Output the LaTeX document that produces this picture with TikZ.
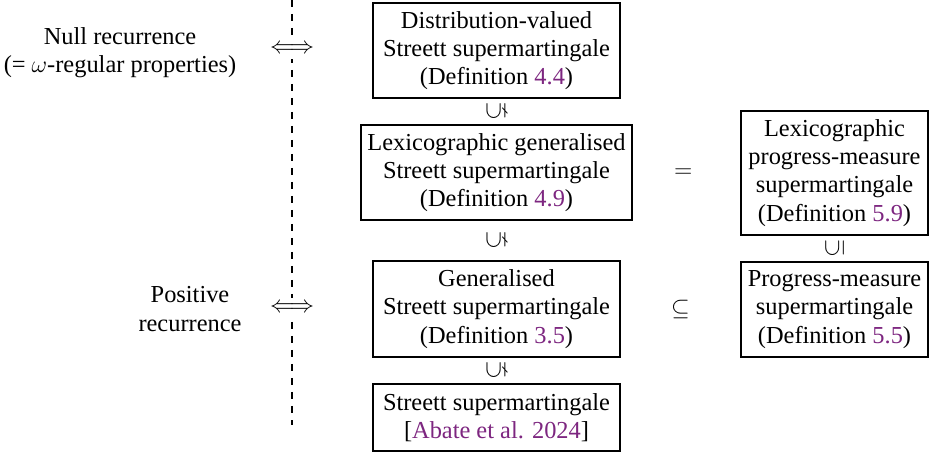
\documentclass[tikz,border=0pt]{standalone}
\usepackage{amssymb}
\usepackage{fontspec}
\setmainfont{Liberation Serif}
\usetikzlibrary{calc, positioning}

\definecolor{refpurple}{RGB}{125,38,128}
\newcommand{\refnum}[1]{\textcolor{refpurple}{#1}}

\begin{document}
\begin{tikzpicture}[
    x=0.5pt, y=-0.5pt,
    thick,
    font=\fontsize{12.2}{14.1}\selectfont,
    box/.style={draw, line width=1pt, align=center, inner sep=2pt},
    rel/.style={inner sep=0pt},
    iff/.style={fill=white, inner sep=3pt}
]
\useasboundingbox (0,0) rectangle (930,453);

% the dividing line
\coordinate (top) at (292,0);
\coordinate (bot) at (292,425);
\draw[dashed, line width=0.7pt, dash pattern=on 3.5pt off 3.5pt] (top) -- (bot);

% left hand side
\node[align=center] (null) at (120,53) {Null recurrence\\(= $\omega$-regular properties)};
\node[align=center] (pos) at (190,309) {Positive\\recurrence};

\node[iff] (iff1) at (292,49) {$\Longleftrightarrow$};
\node[iff] (iff2) at (292,308) {$\Longleftrightarrow$};

% the chain of supermartingales
\node[box, minimum width=123.5pt, minimum height=47.5pt] (dist) at (496.5,50.5)
    {Distribution-valued\\Streett supermartingale\\(Definition \refnum{4.4})};
\node[box, minimum width=135.5pt, minimum height=47.5pt] (lexgen) at (496.5,172.5)
    {Lexicographic generalised\\Streett supermartingale\\(Definition \refnum{4.9})};
\node[box, minimum width=123.5pt, minimum height=48pt] (gen) at (496.5,309)
    {Generalised\\Streett supermartingale\\(Definition \refnum{3.5})};
\node[box, minimum width=123.5pt, minimum height=33.5pt] (streett) at (496.5,417.5)
    {Streett supermartingale\\{}[\refnum{Abate et al. 2024}]};

% progress measures
\node[box, minimum width=93.5pt, minimum height=62pt] (lexpm) at (834.5,173)
    {Lexicographic\\progress-measure\\supermartingale\\(Definition \refnum{5.9})};
\node[box, minimum width=93.5pt, minimum height=47.5pt] (pm) at (834.5,309.5)
    {Progress-measure\\supermartingale\\(Definition \refnum{5.5})};

% relations
\node[rel] (r1) at ($(dist.south)!0.5!(lexgen.north)$) {\rotatebox{90}{$\subsetneq$}};
\node[rel] (r2) at ($(lexgen.south)!0.5!(gen.north)$) {\rotatebox{90}{$\subsetneq$}};
\node[rel] (r3) at ($(gen.south)!0.5!(streett.north)$) {\rotatebox{90}{$\subsetneq$}};
\node[rel] (r4) at ($(lexpm.south)!0.5!(pm.north)$) {\rotatebox{90}{$\subseteq$}};
\node[rel] (eq) at ($(lexgen.east)!0.47!(lexpm.west)$) {$=$};
\node[rel] (sub) at ($(gen.east)!0.5!(pm.west)$) {$\subseteq$};

\end{tikzpicture}
\end{document}
